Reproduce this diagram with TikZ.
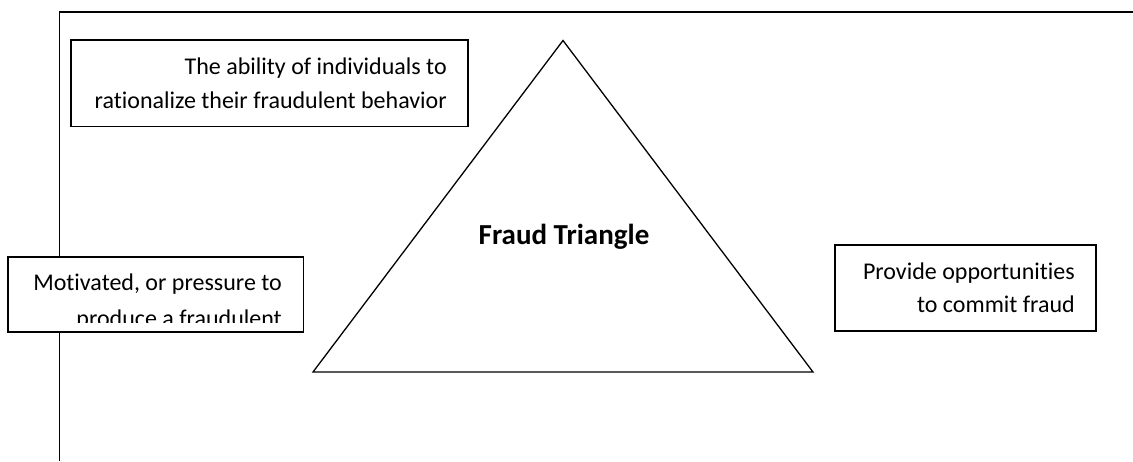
\documentclass[tikz,border=0pt]{standalone}
\usepackage{fontspec}
\setmainfont{Carlito}[Ligatures={NoCommon}]
\begin{document}
\begin{tikzpicture}[x=1pt,y=-1pt,
  box/.style={draw, fill=white, line width=1.6pt, inner sep=0pt},
  txt/.style={anchor=base east, inner sep=0pt, font=\fontsize{24}{30}\selectfont},
  frameline/.style={line width=1.8pt},
  tri/.style={line width=1.3pt, line join=miter}]
\useasboundingbox (0,0) rectangle (1133,461);
% outer frame
\coordinate (fl) at (59.5,461);
\coordinate (ftl) at (59.5,12.3);
\coordinate (fr) at (1134,12.3);
\draw[frameline] (fl) -- (ftl) -- (fr);
% boxes
\node[box, minimum width=397pt, minimum height=86.5pt] (rat) at (269.5,83.25) {};
\node[box, minimum width=295.5pt, minimum height=74.5pt] (mot) at (155.75,294.25) {};
\node[box, minimum width=261pt, minimum height=86pt] (opp) at (965.5,288) {};
% texts
\node[txt] (rat1) at (447,74) {The ability of individuals to};
\node[txt] (rat2) at (447,108) {rationalize their fraudulent behavior};
\node[txt] (mot1) at (282,290) {Motivated, or pressure to};
\begin{scope}
\clip (9,258) rectangle (303,322);
\node[txt] (mot2) at (282,326) {produce a fraudulent};
\end{scope}
\draw[line width=1.6pt] (mot.south west) -- (mot.south east);
\node[txt] (opp1) at (1075,279) {Provide opportunities};
\node[txt] (opp2) at (1075,312) {to commit fraud};
% triangle
\coordinate (apex) at (563,40.5);
\coordinate (bl) at (313,372);
\coordinate (br) at (813,372);
\draw[tri] (apex) -- (bl) -- (br) -- cycle;
\node[anchor=base, inner sep=0pt, font=\fontsize{29}{34}\selectfont\bfseries] (ft) at (564,244) {Fraud Triangle};
\end{tikzpicture}
\end{document}
